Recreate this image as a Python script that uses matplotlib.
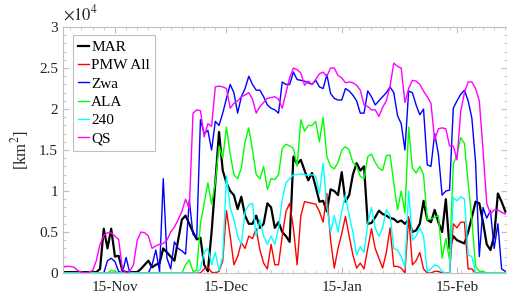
import numpy as np
import pandas as pd
import matplotlib
matplotlib.use("Agg")
import matplotlib.pyplot as plt
import matplotlib.dates as mdates
from matplotlib.ticker import AutoMinorLocator, FixedLocator

plt.rcParams['font.family'] = ['Liberation Serif', 'DejaVu Serif']
plt.rcParams['mathtext.fontset'] = 'stix'

# daily values, units of 1e4 km^2, starting 1-Nov
dates = pd.date_range("2013-11-01", periods=120, freq="D")

mar = [0.01, 0.01, 0.01, 0.01, 0.01, 0.01, 0.01, 0.01, 0.01, 0.01,
       0.05, 0.54, 0.30, 0.54, 0.20, 0.21, 0.03, 0.01, 0.01, 0.01,
       0.01, 0.05, 0.10, 0.15, 0.07, 0.10, 0.12, 0.30, 0.25, 0.20,
       0.15, 0.40, 0.65, 0.70, 0.60, 0.50, 0.41, 0.43, 0.10, 0.02,
       0.50, 1.10, 1.72, 1.25, 1.10, 1.00, 0.95, 0.78, 0.93, 0.70,
       0.60, 0.60, 0.70, 0.55, 0.60, 0.85, 0.80, 0.55, 0.62, 0.50,
       0.45, 0.38, 1.42, 1.33, 1.38, 1.25, 1.13, 1.22, 1.05, 0.87,
       0.88, 0.75, 1.02, 1.00, 0.95, 1.23, 0.87, 0.95, 1.20, 1.34,
       1.25, 1.30, 0.60, 0.61, 0.68, 0.76, 0.72, 0.70, 0.67, 0.66,
       0.62, 0.64, 0.60, 0.65, 0.50, 0.52, 0.60, 0.88, 0.65, 0.62,
       0.77, 0.62, 0.50, 0.90, 0.30, 0.45, 0.40, 0.38, 0.36, 0.50,
       0.68, 0.87, 0.85, 0.62, 0.35, 0.28, 0.45, 0.97, 0.87, 0.75]

pmw = [0.0] * 38 + [
       0.05, 0.07, 0.01, 0.00, 0.02, 0.15, 0.76, 0.45, 0.10, 0.20, 0.37, 0.30,
       0.45, 0.42, 0.54, 0.28, 0.12, 0.05, 0.35, 0.10, 0.10, 0.45,
       0.75, 0.85, 0.55, 0.10, 0.70, 0.87, 0.86, 0.85, 0.84, 0.75,
       0.62, 0.97, 0.40, 0.06, 0.30, 0.48, 0.69, 0.45, 0.22, 0.06,
       0.12, 0.05, 0.30, 0.54, 0.30, 0.18, 0.06, 0.25, 0.55, 0.08,
       0.08, 0.06, 0.00, 0.69, 0.10, 0.15, 0.25, 0.05, 0.00, 0.00,
       0.02, 0.02, 0.00, 0.00, 0.00, 0.60, 0.55, 0.62, 0.62, 0.05,
       0.05] + [0.0] * 9

zwa = [0.0] * 12 + [
       0.15, 0.18, 0.14, 0.02, 0.00, 0.19, 0.00, 0.00,
       0.00, 0.00, 0.00, 0.00, 0.10, 0.28, 0.02, 1.15, 0.18, 0.05,
       0.38, 0.30, 0.27, 0.23, 0.89, 0.47, 0.43, 1.87, 1.70, 1.74,
       1.50, 1.85, 1.80, 1.95, 2.13, 2.30, 2.20, 1.95, 2.15, 2.25,
       2.40, 2.30, 2.23, 2.23, 2.15, 2.05, 2.01, 1.99, 1.95, 2.33,
       2.30, 2.30, 2.45, 2.36, 2.35, 2.34, 2.32, 2.30, 2.35, 2.27,
       2.25, 2.42, 2.19, 2.13, 2.11, 2.11, 2.25, 2.22, 2.17, 2.10,
       1.95, 1.95, 2.22, 2.15, 2.05, 2.10, 2.15, 2.20, 2.27, 2.20,
       1.92, 1.82, 1.50, 2.22, 2.20, 2.05, 1.93, 2.00, 1.32, 1.30,
       1.70, 1.45, 0.95, 1.00, 1.01, 2.01, 2.10, 2.18, 2.23, 2.10,
       1.89, 1.35, 0.20, 0.80, 0.67, 0.76, 0.30, 0.60, 0.05, 0.02]

ala = [0.0] * 13 + [0.03, 0.02] + [0.0] * 18 + [
       0.10, 0.16, 0.02, 0.03, 0.60, 0.85, 1.10,
       0.84, 1.10, 1.55, 1.40, 1.78, 1.45, 1.20, 1.15, 1.28, 1.60,
       1.77, 1.50, 1.20, 1.15, 1.30, 1.02, 1.15, 1.14, 1.20, 1.52,
       1.57, 1.55, 1.52, 1.30, 1.87, 1.73, 1.80, 1.80, 1.85, 1.60,
       1.90, 1.42, 1.30, 1.27, 1.35, 1.50, 1.54, 1.50, 1.35, 1.30,
       1.18, 1.15, 1.42, 1.45, 1.35, 1.28, 1.25, 1.43, 1.44, 1.10,
       0.77, 1.00, 0.73, 1.78, 1.28, 1.22, 1.30, 1.20, 0.65, 0.66,
       0.68, 0.70, 0.18, 0.42, 0.16, 1.32, 1.45, 1.65, 1.58, 1.10,
       0.65, 0.08, 0.02, 0.02] + [0.0] * 6

a240 = [0.0] * 37 + [
       0.05, 0.25, 0.30, 0.10, 0.25, 0.03, 0.20, 1.18, 0.80, 0.65,
       0.45, 0.35, 0.75, 0.83, 0.85, 0.45, 0.65, 0.45, 0.35, 0.45,
       0.35, 0.55, 0.90, 1.10, 1.15, 1.20, 1.20, 1.21, 1.20, 1.19,
       1.20, 1.18, 0.97, 1.34, 0.81, 0.50, 0.70, 0.50, 0.75, 0.95,
       0.70, 0.50, 0.22, 0.32, 0.25, 0.60, 0.80, 0.55, 0.45, 0.55,
       0.77, 0.70, 0.30, 0.28, 0.20, 0.07, 1.00, 0.40, 0.45, 0.55,
       0.45, 0.02, 0.05, 0.10, 0.08, 0.02, 0.00, 0.00, 0.92, 0.88,
       0.93, 0.90, 0.22, 0.20] + [0.0] * 9

qs = [0.07, 0.08, 0.08, 0.07, 0.03, 0.01, 0.00, 0.01, 0.03, 0.15,
      0.35, 0.46, 0.49, 0.49, 0.45, 0.41, 0.05, 0.00, 0.02, 0.10,
      0.40, 0.50, 0.49, 0.45, 0.30, 0.33, 0.35, 0.36, 0.40, 0.50,
      0.56, 0.65, 0.75, 0.90, 0.78, 1.95, 1.99, 1.98, 1.66, 1.82,
      1.79, 2.27, 2.28, 2.27, 2.25, 2.01, 2.07, 2.10, 2.15, 2.17,
      2.20, 2.12, 1.95, 2.03, 2.08, 2.13, 2.14, 2.15, 2.12, 2.01,
      2.20, 2.38, 2.50, 2.48, 2.44, 2.29, 2.34, 2.30, 2.36, 2.43,
      2.45, 2.40, 2.50, 2.50, 2.41, 2.38, 2.32, 2.33, 2.32, 2.29,
      2.23, 2.05, 2.03, 1.99, 1.99, 1.91, 2.02, 2.10, 2.28, 2.56,
      2.52, 2.50, 2.08, 2.25, 2.35, 2.34, 2.30, 2.22, 2.15, 2.07,
      1.62, 1.76, 1.77, 1.76, 1.55, 1.55, 1.38, 1.97, 2.20, 2.33,
      2.33, 2.25, 2.10, 1.50, 0.85, 0.72, 0.77, 0.77, 0.74, 0.72]

series = [("MAR", mar, "k", 1.6),
          ("PMW All", pmw, "#ff0000", 1.0),
          ("Zwa", zwa, "#0000ff", 1.0),
          ("ALA", ala, "#00ff00", 1.0),
          ("240", a240, "#00ffff", 1.0),
          ("QS", qs, "#ff00ff", 1.0)]

tick_dates = pd.to_datetime(["2013-11-15", "2013-12-15", "2014-01-15", "2014-02-15"])
tick_labels = ["15-Nov", "15-Dec", "15-Jan", "15-Feb"]

fig = plt.figure(figsize=(5.07, 3.04), dpi=100)
ax = fig.add_axes([0.124, 0.102, 0.876, 0.809])

for name, vals, col, lw in series:
    ax.plot(dates, np.array(vals) * 1e4, color=col, lw=lw, label=name)

x0 = mdates.date2num(dates[0])
ax.set_xlim(x0, x0 + 119.45)
ax.set_ylim(0, 3e4)
ax.set_yticks(np.arange(0, 3.01e4, 0.5e4))
ax.set_yticklabels(["0", "0.5", "1", "1.5", "2", "2.5", "3"])
ax.xaxis.set_major_locator(FixedLocator(mdates.date2num(tick_dates)))
ax.set_xticklabels(tick_labels)
ax.xaxis.set_minor_locator(AutoMinorLocator(10))
ax.yaxis.set_minor_locator(AutoMinorLocator(5))

gray = "#c0c0c0"
for s in ax.spines.values():
    s.set_color(gray)
    s.set_linewidth(0.8)
ax.tick_params(which="both", direction="in", top=True, right=True,
               color=gray, labelcolor="#262626", labelsize=11)
ax.tick_params(which="major", length=4)
ax.tick_params(which="minor", length=2)
ax.tick_params(axis="x", pad=6)

ax.set_ylabel("[km$^2$]", fontsize=12, color="#262626", labelpad=6)
ax.text(0.0, 1.012, r"$\times10^4$", transform=ax.transAxes,
        fontsize=12, color="#262626", ha="left", va="bottom")

leg = ax.legend(loc="upper left", bbox_to_anchor=(0.0225, 0.967),
                borderaxespad=0, fontsize=11, handlelength=0.7,
                handletextpad=0.15, labelspacing=0.3, borderpad=0.35,
                fancybox=False, framealpha=1)
leg.get_frame().set_edgecolor(gray)
leg.get_frame().set_linewidth(0.8)

fig.savefig("out.png", dpi=100)
